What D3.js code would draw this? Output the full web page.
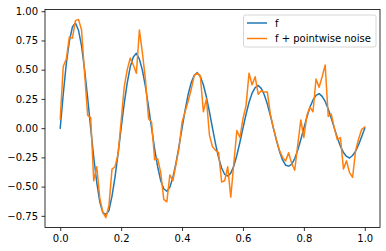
<!DOCTYPE html>
<html>
<head>
<meta charset="utf-8">
<script src="https://cdn.jsdelivr.net/npm/d3@7"></script>
<style>
  body { margin: 0; background: #fff; }
  text { font-family: "DejaVu Sans", sans-serif; font-size: 10px; fill: #000; }
</style>
</head>
<body>
<svg id="chart" width="386" height="251"></svg>
<script>
// sample positions, step 0.01 on [0, 1]
var xs = d3.range(0, 101).map(function(k) { return k / 100; });

// f
var fValues = [
  0, 0.294, 0.553, 0.744, 0.865, 0.90, 0.837, 0.704, 0.500, 0.260,
  0, -0.250, -0.465, -0.631, -0.723, -0.74, -0.704, -0.582, -0.417, -0.216,
  0, 0.210, 0.388, 0.526, 0.609, 0.64, 0.590, 0.493, 0.353, 0.182,
  0, -0.178, -0.332, -0.449, -0.518, -0.54, -0.504, -0.421, -0.300, -0.156,
  0, 0.153, 0.288, 0.388, 0.452, 0.475, 0.441, 0.371, 0.266, 0.138,
  0, -0.134, -0.252, -0.341, -0.396, -0.41, -0.385, -0.324, -0.232, -0.121,
  0, 0.117, 0.221, 0.299, 0.347, 0.365, 0.340, 0.286, 0.206, 0.108,
  0, -0.106, -0.199, -0.272, -0.317, -0.325, -0.310, -0.260, -0.187, -0.097,
  0, 0.095, 0.178, 0.241, 0.280, 0.295, 0.272, 0.228, 0.163, 0.085,
  0, -0.082, -0.154, -0.209, -0.242, -0.255, -0.234, -0.196, -0.140, -0.072,
  0
];

// f + pointwise noise
var noisyValues = [
  0.08, 0.53, 0.59, 0.78, 0.77, 0.92, 0.93, 0.84, 0.47, 0.11,
  0.09, -0.45, -0.33, -0.60, -0.72, -0.765, -0.66, -0.35, -0.33, -0.22,
  0.06, 0.35, 0.50, 0.60, 0.54, 0.47, 0.84, 0.64, 0.41, 0.08,
  0.05, -0.27, -0.26, -0.38, -0.61, -0.63, -0.40, -0.45, -0.31, -0.17,
  0.05, 0.14, 0.23, 0.33, 0.45, 0.47, 0.45, 0.14, 0.25, -0.06,
  -0.16, -0.19, -0.21, -0.46, -0.45, -0.33, -0.59, -0.30, -0.02, -0.08,
  0.08, 0.19, 0.47, 0.37, 0.44, 0.29, 0.32, 0.31, 0.31, 0.12,
  0.0, -0.10, -0.19, -0.25, -0.28, -0.21, -0.30, -0.36, -0.14, 0.07,
  -0.08, 0.11, 0.18, 0.14, 0.42, 0.35, 0.44, 0.54, 0.10, 0.12,
  0.0, -0.10, -0.08, -0.35, -0.28, -0.38, -0.42, -0.19, -0.09, -0.01,
  0.01
];

var xTicks = [0, 0.2, 0.4, 0.6, 0.8, 1.0];
var yTicks = [-0.75, -0.5, -0.25, 0, 0.25, 0.5, 0.75, 1.0];
var seriesNames = ['f', 'f + pointwise noise'];
var colors = ['#1f77b4', '#ff7f0e'];

var svg = d3.select('#chart');
var plotLeft = 45, plotRight = 380, plotTop = 9.5, plotBottom = 227.5;

// matplotlib style 5% margins
var ext = d3.extent(fValues.concat(noisyValues));
var pad = (ext[1] - ext[0]) * 0.05;
var x = d3.scaleLinear().domain([-0.05, 1.05]).range([plotLeft, plotRight]);
var y = d3.scaleLinear().domain([ext[0] - pad, ext[1] + pad]).range([plotBottom, plotTop]);

var g = svg.append('g');

var clip = svg.append('clipPath').attr('id', 'plotclip');
clip.append('rect').attr('x', plotLeft).attr('y', plotTop)
  .attr('width', plotRight - plotLeft).attr('height', plotBottom - plotTop);

var line = d3.line()
  .x(function(d) { return x(d[0]); })
  .y(function(d) { return y(d[1]); });

var series = [fValues, noisyValues];
series.forEach(function(vals, i) {
  g.append('path')
    .datum(xs.map(function(v, k) { return [v, vals[k]]; }))
    .attr('clip-path', 'url(#plotclip)')
    .attr('fill', 'none')
    .attr('stroke', colors[i])
    .attr('stroke-width', 1.5)
    .attr('stroke-linejoin', 'round')
    .attr('stroke-linecap', 'square')
    .attr('d', line);
});

// axes
var xAxis = d3.axisBottom(x).tickValues(xTicks).tickSize(3.5).tickPadding(3.5)
  .tickFormat(d3.format('.1f'));
var yAxis = d3.axisLeft(y).tickValues(yTicks).tickSize(3.5).tickPadding(3.5)
  .tickFormat(d3.format('.2f'));

var gx = g.append('g').attr('transform', 'translate(0,' + plotBottom + ')').call(xAxis);
var gy = g.append('g').attr('transform', 'translate(' + plotLeft + ',0)').call(yAxis);
[gx, gy].forEach(function(a) {
  a.select('.domain').remove();
  a.selectAll('line').attr('stroke', '#000').attr('stroke-width', 0.8);
  a.selectAll('text').attr('font-family', '"DejaVu Sans", sans-serif')
    .attr('font-size', 10).attr('fill', '#000');
});

// spines
g.append('rect')
  .attr('x', plotLeft).attr('y', plotTop)
  .attr('width', plotRight - plotLeft).attr('height', plotBottom - plotTop)
  .attr('fill', 'none').attr('stroke', '#000').attr('stroke-width', 0.8);

// legend
var lg = g.append('g');
lg.append('rect')
  .attr('x', 243.5).attr('y', 15).attr('width', 132.5).attr('height', 32)
  .attr('rx', 2).attr('ry', 2)
  .attr('fill', '#fff').attr('fill-opacity', 0.8)
  .attr('stroke', '#cccccc').attr('stroke-width', 0.8);
seriesNames.forEach(function(name, i) {
  var yy = 23 + i * 15.5;
  lg.append('line')
    .attr('x1', 247).attr('x2', 267).attr('y1', yy).attr('y2', yy)
    .attr('stroke', colors[i]).attr('stroke-width', 1.5);
  lg.append('text')
    .attr('x', 275).attr('y', yy + 3.6)
    .text(name);
});
</script>
</body>
</html>
